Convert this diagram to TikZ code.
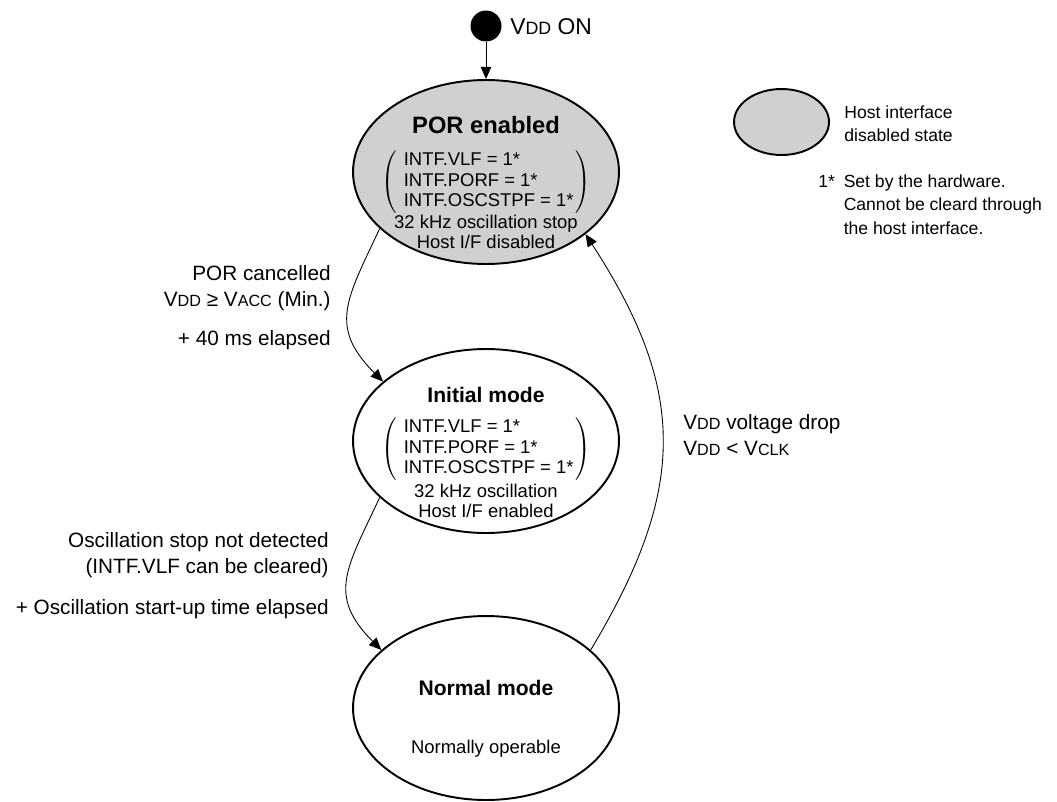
\documentclass[tikz,border=0pt]{standalone}
\usepackage{fontspec}
\setmainfont{Liberation Sans}
\usepackage{graphicx}
\usetikzlibrary{arrows.meta,positioning,shapes.geometric}
\definecolor{hostgray}{HTML}{D0D0D0}
\newcommand{\lc}[1]{\scalebox{0.78}{#1}}
\newcommand{\flagset}{$\left(\begin{tabular}{@{\hspace{4pt}}l@{\hspace{1pt}}}INTF.VLF = 1*\\INTF.PORF = 1*\\INTF.OSCSTPF = 1*\end{tabular}\right)$}

\begin{document}
\begin{tikzpicture}[x=0.02cm,y=-0.02cm,
 font=\fontsize{10.5}{11.8}\selectfont,
 modebox/.style={ellipse,draw,line width=1.1pt,minimum width=5.32cm,minimum height=3.68cm,inner sep=0pt},
 ttl/.style={font=\fontsize{12}{14}\selectfont\bfseries,anchor=base,inner sep=0pt},
 txt/.style={anchor=base,inner sep=0pt},
 cond/.style={font=\fontsize{11.8}{14}\selectfont,anchor=base east,inner sep=0pt},
 arr/.style={-{Triangle[length=7pt,width=6pt]},line width=0.5pt}]
\useasboundingbox (0,0) rectangle (1057,801);
% power on
\node[circle,fill,minimum size=0.62cm,inner sep=0pt] (start) at (486,26) {};
\node[font=\fontsize{13}{15}\selectfont,anchor=base west,inner sep=0pt] (vddon) at (510,34) {V\lc{DD} ON};
% states
\node[modebox,fill=hostgray] (por) at (486,172) {};
\node[ttl,font=\fontsize{13.5}{15}\selectfont\bfseries] (porttl) at (486,133) {POR enabled};
\node[txt,anchor=center] (porflags) at (486,182) {\flagset};
\node[txt] (porosc) at (486,228) {32 kHz oscillation stop};
\node[txt] (porhost) at (486,248) {Host I/F disabled};
\node[modebox] (init) at (486,441) {};
\node[ttl] (initttl) at (486,402) {Initial mode};
\node[txt,anchor=center] (initflags) at (486,449) {\flagset};
\node[txt] (initosc) at (486,497) {32 kHz oscillation};
\node[txt] (inithost) at (486,517) {Host I/F enabled};
\node[modebox] (norm) at (486,708) {};
\node[ttl] (normttl) at (486,695) {Normal mode};
\node[txt] (normop) at (486,753) {Normally operable};
% legend
\node[modebox,fill=hostgray,minimum width=1.9cm,minimum height=1.32cm] (legend) at (781.5,122) {};
\node[font=\fontsize{10}{13.3}\selectfont,align=left,anchor=west,inner sep=0pt] (legendtxt) at (844,124) {Host interface\\disabled state};
\node[font=\fontsize{10}{13.3}\selectfont,anchor=west,inner sep=0pt] (note) at (818,206)
  {\begin{tabular}{@{}l@{\hspace{5pt}}l@{}}1* & Set by the hardware.\\ & Cannot be cleard through\\ & the host interface.\end{tabular}};
% transitions
\draw[arr] (start) -- (por);
\draw[arr] (por.208) to[out=245,in=135,looseness=1.3] (init.150);
\draw[arr] (init.208) to[out=245,in=135,looseness=1.3] (norm.151);
\draw[arr] (norm.29) to[out=59,in=303,looseness=1.15] (por.328);
\node[cond] (porcancel) at (331,280) {POR cancelled};
\node[cond] (poracc) at (331,306) {V\lc{DD} ≥ V\lc{ACC} (Min.)};
\node[cond] (porwait) at (331,345) {+ 40 ms elapsed};
\node[cond] (oscok) at (329,547) {Oscillation stop not detected};
\node[cond] (oscvlf) at (329,573) {(INTF.VLF can be cleared)};
\node[cond] (oscwait) at (329,614) {+ Oscillation start-up time elapsed};
\node[cond,anchor=base west] (vdddrop) at (683,429) {V\lc{DD} voltage drop};
\node[cond,anchor=base west] (vddclk) at (683,455) {V\lc{DD} < V\lc{CLK}};
\end{tikzpicture}
\end{document}
